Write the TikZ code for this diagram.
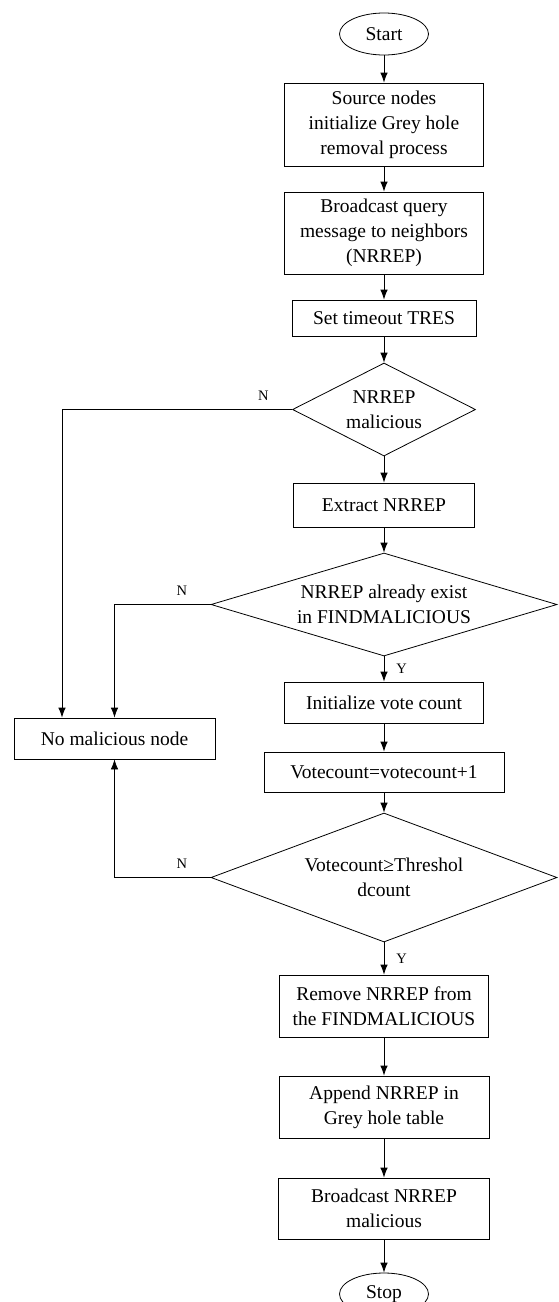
\documentclass[tikz,border=0pt]{standalone}
\usepackage{fontspec}
\setmainfont{Liberation Serif}
\usetikzlibrary{shapes.geometric,arrows.meta,positioning}

\begin{document}
\begin{tikzpicture}
		[x=1pt,y=-1pt,
		font=\fontsize{19.5}{25}\selectfont,
		block/.style ={rectangle, draw=black, line width=0.8pt, align=center, inner sep=2pt},
		decision/.style ={diamond, draw=black, line width=0.8pt, align=center, inner sep=0pt},
		term/.style ={ellipse, draw=black, line width=0.8pt, minimum width=89pt, minimum height=42pt, inner sep=0pt},
		line/.style ={draw, line width=0.8pt, -{Latex[length=10pt,width=7.5pt]}},
		lbl/.style ={font=\fontsize{14.5}{16}\selectfont, inner sep=0pt},
		nlbl/.style ={lbl, anchor=south east, xshift=-23pt, yshift=9pt}]
		\useasboundingbox (0,0) rectangle (558,1302);

		\node[term] (start) at (384,34) {Start};
		\node[block, minimum width=199pt, minimum height=83pt] (src) at (384,124.5) {Source nodes\\initialize  Grey hole\\removal process};
		\node[block, minimum width=199pt, minimum height=82pt] (query) at (384,233) {Broadcast query\\message to neighbors\\(NRREP)};
		\node[block, minimum width=184pt, minimum height=36pt] (tres) at (384,318) {Set timeout TRES};
		\node[decision, minimum width=183pt, minimum height=93pt, aspect=1.97] (mal) at (384,409.5) {NRREP\\malicious};
		\node[block, minimum width=181pt, minimum height=44pt] (extract) at (384,505) {Extract NRREP};
		\node[decision, minimum width=346pt, minimum height=103pt, aspect=3.36] (exist) at (384,604.5) {NRREP already exist\\in FINDMALICIOUS};
		\node[block, minimum width=199pt, minimum height=41pt] (init) at (384,702.5) {Initialize vote count};
		\node[block, minimum width=240pt, minimum height=40pt] (vote) at (384,772) {Votecount=votecount+1};
		\node[decision, minimum width=346pt, minimum height=129pt, aspect=2.68] (thresh) at (384,877.5) {Votecount≥Threshol\\dcount};
		\node[block, minimum width=209pt, minimum height=62pt] (remove) at (384,1006) {Remove NRREP from\\the FINDMALICIOUS};
		\node[block, minimum width=210pt, minimum height=62pt] (append) at (384,1107) {Append NRREP in\\Grey hole table};
		\node[block, minimum width=211pt, minimum height=61pt] (bmal) at (384,1208.5) {Broadcast NRREP\\malicious};
		\node[term] (stop) at (384,1294) {Stop};
		\node[block, minimum width=201pt, minimum height=41pt] (nomal) at (114.5,738.5) {No malicious node};

		\path[line]
		(start) edge (src)
		(src) edge (query)
		(query) edge (tres)
		(tres) edge (mal)
		(mal) edge (extract)
		(extract) edge (exist)
		(exist) edge node[lbl, right=12pt] {Y} (init)
		(init) edge (vote)
		(vote) edge (thresh)
		(thresh) edge node[lbl, right=12pt] {Y} (remove)
		(remove) edge (append)
		(append) edge (bmal)
		(bmal) edge (stop);

		% N branches
		\draw[line] (mal.west) node[nlbl] {N} -| ([xshift=-52.5pt]nomal.north);
		\draw[line] (exist.west) node[nlbl] {N} -| (nomal.north);
		\draw[line] (thresh.west) node[nlbl] {N} -| (nomal.south);

	\end{tikzpicture}
\end{document}
